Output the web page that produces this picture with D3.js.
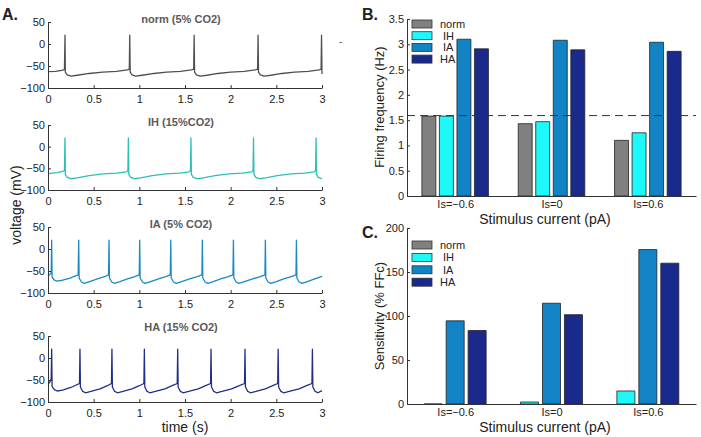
<!DOCTYPE html>
<html><head><meta charset="utf-8">
<script src="https://cdn.jsdelivr.net/npm/d3@7"></script>
<style>body{margin:0;background:#fff}svg{display:block}text{font-family:"Liberation Sans",Arial,sans-serif}</style>
</head><body><svg id="c" width="701" height="437"></svg>
<script>
// ---------- DATA ----------
const timeTicks = [0, 0.5, 1, 1.5, 2, 2.5, 3];
const voltageTicks = [50, 0, -50, -100];
const traceTitles = ["norm (5% CO2)", "IH (15%CO2)", "IA (5% CO2)", "HA (15% CO2)"];
const traceNorm = [[0,-63],[0.08,-62],[0.15,-60],[0.18,-58],[0.186,20],[0.19,-64],[0.21,-70],[0.25,-73],[0.32,-71],[0.45,-67],[0.6,-64],[0.75,-62],[0.87,-59],[0.89,-57],[0.895,20],[0.9,-64],[0.92,-70],[0.96,-73],[1.03,-71],[1.16,-67],[1.3,-64],[1.45,-62],[1.57,-59],[1.595,-57],[1.6,20],[1.605,-64],[1.625,-70],[1.665,-73],[1.74,-71],[1.86,-67],[2.0,-64],[2.15,-62],[2.27,-59],[2.295,-57],[2.3,20],[2.305,-64],[2.325,-70],[2.365,-73],[2.44,-71],[2.56,-67],[2.7,-64],[2.85,-62],[2.97,-59],[2.99,-57],[2.995,20],[3.0,-68]];
const traceIH = [[0,-62],[0.1,-60],[0.18,-56],[0.186,20],[0.19,-64],[0.21,-71],[0.25,-74],[0.32,-72],[0.45,-67],[0.6,-63],[0.75,-61],[0.86,-58],[0.875,-55],[0.88,20],[0.885,-64],[0.905,-71],[0.945,-74],[1.015,-72],[1.14,-67],[1.29,-63],[1.44,-61],[1.545,-58],[1.56,-55],[1.565,20],[1.57,-64],[1.59,-71],[1.63,-74],[1.7,-72],[1.83,-67],[1.98,-63],[2.13,-61],[2.23,-58],[2.245,-55],[2.25,20],[2.255,-64],[2.275,-71],[2.315,-74],[2.385,-72],[2.51,-67],[2.66,-63],[2.81,-61],[2.915,-58],[2.93,-55],[2.935,20],[2.94,-64],[2.96,-71],[3.0,-74]];
const traceIA = [[0,-61],[0.02,-58],[0.035,-55],[0.04,20],[0.045,-64],[0.07,-71],[0.1,-73],[0.16,-71],[0.24,-66],[0.33,-59],[0.336,20],[0.341,-66],[0.366,-75],[0.396,-78],[0.456,-74],[0.54,-68],[0.62,-63],[0.663,-59],[0.668,20],[0.673,-66],[0.698,-75],[0.728,-78],[0.788,-74],[0.87,-68],[0.95,-63],[0.999,-59],[1.004,20],[1.009,-66],[1.034,-75],[1.064,-78],[1.124,-74],[1.21,-68],[1.29,-63],[1.339,-59],[1.344,20],[1.349,-66],[1.374,-75],[1.404,-78],[1.464,-74],[1.55,-68],[1.635,-63],[1.685,-59],[1.69,20],[1.695,-66],[1.72,-75],[1.75,-78],[1.81,-74],[1.89,-68],[1.975,-63],[2.025,-59],[2.03,20],[2.035,-66],[2.06,-75],[2.09,-78],[2.15,-74],[2.24,-68],[2.325,-63],[2.375,-59],[2.38,20],[2.385,-66],[2.41,-75],[2.44,-78],[2.5,-74],[2.58,-68],[2.665,-63],[2.715,-59],[2.72,20],[2.725,-66],[2.75,-75],[2.78,-78],[2.84,-74],[2.92,-68],[3.0,-62]];
const traceHA = [[0,-60],[0.02,-55],[0.035,-47],[0.04,20],[0.045,-65],[0.07,-72],[0.1,-75],[0.16,-73],[0.25,-67],[0.345,-58],[0.35,20],[0.355,-66],[0.38,-76],[0.41,-79],[0.47,-76],[0.57,-70],[0.65,-63],[0.695,-58],[0.7,20],[0.705,-66],[0.73,-76],[0.76,-79],[0.82,-76],[0.92,-70],[1.0,-63],[1.05,-58],[1.055,20],[1.06,-66],[1.085,-76],[1.115,-79],[1.175,-76],[1.28,-70],[1.36,-63],[1.415,-58],[1.42,20],[1.425,-66],[1.45,-76],[1.48,-79],[1.54,-76],[1.645,-70],[1.725,-63],[1.78,-58],[1.785,20],[1.79,-66],[1.815,-76],[1.845,-79],[1.905,-76],[2.01,-70],[2.095,-63],[2.152,-58],[2.157,20],[2.162,-66],[2.187,-76],[2.217,-79],[2.277,-76],[2.38,-70],[2.46,-63],[2.515,-58],[2.52,20],[2.525,-66],[2.55,-76],[2.58,-79],[2.64,-76],[2.75,-70],[2.83,-63],[2.89,-58],[2.895,20],[2.9,-66],[2.925,-76],[2.955,-79],[3.0,-74]];

const groupLabels = ["Is=\u22120.6", "Is=0", "Is=0.6"];
const seriesNames = ["norm", "IH", "IA", "HA"];
const freqNorm = [1.58, 1.43, 1.10];
const freqIH   = [1.58, 1.47, 1.25];
const freqIA   = [3.10, 3.08, 3.04];
const freqHA   = [2.91, 2.89, 2.86];
const freqRef  = 1.59;
const freqTicks = [0, 0.5, 1, 1.5, 2, 2.5, 3, 3.5];
const sensIH = [0, 2.3, 14.8];
const sensIA = [94.5, 114.5, 175.5];
const sensHA = [83.5, 101.5, 160];
const sensTicks = [0, 50, 100, 150, 200];

// ---------- STYLE ----------
const barColors = {norm:"#808080", IH:"#1ef8f8", IA:"#1284c6", HA:"#1a2a8c"};
const traceColors = ["#505050", "#2bbfb6", "#1d88c2", "#1f2e86"];
const axisColor = "#333";
const svg = d3.select("#c");

function styleAxis(g){
  g.selectAll("path.domain").attr("stroke", axisColor).attr("stroke-width", 1);
  g.selectAll(".tick line").attr("stroke", axisColor);
  g.selectAll(".tick text").attr("fill", "#222").style("font-size", "11px").style("font-family", '"Liberation Sans",Arial,sans-serif');
}

// ---------- PANEL A ----------
const traces = [traceNorm, traceIH, traceIA, traceHA];
const yTops = [22, 125, 227, 336], yBots = [88, 190, 293, 402];
const xA = d3.scaleLinear().domain([0, 3]).range([48, 322]);
traces.forEach((tr, i) => {
  const y = d3.scaleLinear().domain([-100, 50]).range([yBots[i], yTops[i]]);
  const g = svg.append("g");
  g.append("path").datum(tr)
    .attr("d", d3.line().x(d => xA(d[0])).y(d => y(d[1])))
    .attr("fill", "none").attr("stroke", traceColors[i]).attr("stroke-width", 1.3).attr("stroke-linejoin", "round");
  const ax = g.append("g").attr("transform", `translate(0,${yBots[i]})`)
    .call(d3.axisBottom(xA).tickValues(timeTicks).tickFormat(d3.format("")).tickSizeInner(-3).tickSizeOuter(0).tickPadding(7));
  styleAxis(ax);
  const ay = g.append("g").attr("transform", `translate(48,0)`)
    .call(d3.axisLeft(y).tickValues(voltageTicks).tickFormat(d => d3.format("")(d).replace("-", "\u2212")).tickSizeInner(-3).tickSizeOuter(0).tickPadding(3));
  styleAxis(ay);
  g.append("text").attr("x", 181).attr("y", yTops[i] + (i === 3 ? -5 : 1)).attr("text-anchor", "middle")
    .attr("fill", "#5a5a5a").style("font-size", "11px").style("font-weight", "bold").text(traceTitles[i]);
});
svg.append("text").attr("x", 2).attr("y", 20).style("font-size", "16px").style("font-weight", "bold").attr("fill", "#222").text("A.");
svg.append("text").attr("x", 185).attr("y", 432).attr("text-anchor", "middle").style("font-size", "14px").attr("fill", "#222").text("time (s)");
svg.append("text").attr("transform", "translate(21,205) rotate(-90)").attr("text-anchor", "middle").style("font-size", "14px").attr("fill", "#222").text("voltage (mV)");
svg.append("text").attr("x", 339).attr("y", 45).style("font-size", "10px").attr("fill", "#555").text("-");

// ---------- BAR PANELS ----------
const xB = d3.scaleLinear().domain([0.5, 3.5]).range([407, 696]);
function barPath(x0, x1, yTop, yBase){
  return `M${x0},${yBase}V${yTop}H${x1}V${yBase}Z`;
}
function barPanel(cfg){
  const y = d3.scaleLinear().domain(cfg.domain).range([cfg.y0, cfg.y1]);
  const g = svg.append("g");
  const n = cfg.series.length;
  cfg.series.forEach((s, si) => {
    const off = (si - (n - 1) / 2) * cfg.step;
    g.selectAll(null).data(s.values).enter().append("path")
      .attr("d", (d, k) => barPath(xB(k + 1 + off - cfg.width / 2), xB(k + 1 + off + cfg.width / 2), y(d), y(0)))
      .attr("fill", barColors[s.name]).attr("stroke", "#222").attr("stroke-width", 0.8);
  });
  if (cfg.ref !== undefined) {
    g.append("line").attr("x1", 407).attr("x2", 696).attr("y1", y(cfg.ref)).attr("y2", y(cfg.ref))
      .attr("stroke", "#333").attr("stroke-width", 1).attr("stroke-dasharray", "8,5");
  }
  const ax = g.append("g").attr("transform", `translate(0,${cfg.y0})`)
    .call(d3.axisBottom(xB).tickValues([1, 2, 3]).tickFormat((d, k) => groupLabels[k]).tickSizeInner(0).tickSizeOuter(0).tickPadding(4));
  styleAxis(ax);
  const ay = g.append("g").attr("transform", `translate(407,0)`)
    .call(d3.axisLeft(y).tickValues(cfg.ticks).tickFormat(d3.format("")).tickSizeInner(-3).tickSizeOuter(0).tickPadding(3));
  styleAxis(ay);
  // legend
  seriesNames.forEach((nm, li) => {
    const ly = cfg.legY + li * cfg.legStep;
    g.append("rect").attr("x", 412).attr("y", ly - 4).attr("width", 20).attr("height", 8)
      .attr("fill", barColors[nm]).attr("stroke", "#333").attr("stroke-width", 0.8);
    g.append("text").attr("x", (nm === "IH" || nm === "IA") ? 443 : 440).attr("y", ly + 4)
      .style("font-size", "11px").attr("fill", "#222").text(nm);
  });
  g.append("text").attr("x", 545).attr("y", cfg.y0 + 28).attr("text-anchor", "middle").style("font-size", "14px").attr("fill", "#222").text("Stimulus current (pA)");
  g.append("text").attr("transform", `translate(384,${cfg.labY}) rotate(-90)`).attr("text-anchor", "middle").style("font-size", "13px").attr("fill", "#222").text(cfg.ylabel);
  g.append("text").attr("x", 362).attr("y", cfg.letterY).style("font-size", "16px").style("font-weight", "bold").attr("fill", "#222").text(cfg.letter);
}
barPanel({domain:[0, 3.5], y0:196, y1:19, ticks:freqTicks, step:0.182, width:0.145,
  series:[{name:"norm", values:freqNorm},{name:"IH", values:freqIH},{name:"IA", values:freqIA},{name:"HA", values:freqHA}],
  ref:freqRef, legY:24, legStep:11.7, ylabel:"Firing frequency (Hz)", labY:107, letter:"B.", letterY:20});
barPanel({domain:[0, 200], y0:404, y1:228, ticks:sensTicks, step:0.228, width:0.187,
  series:[{name:"IH", values:sensIH},{name:"IA", values:sensIA},{name:"HA", values:sensHA}],
  legY:245, legStep:12.4, ylabel:"Sensitivity (% FFc)", labY:316, letter:"C.", letterY:238});
</script></body></html>
